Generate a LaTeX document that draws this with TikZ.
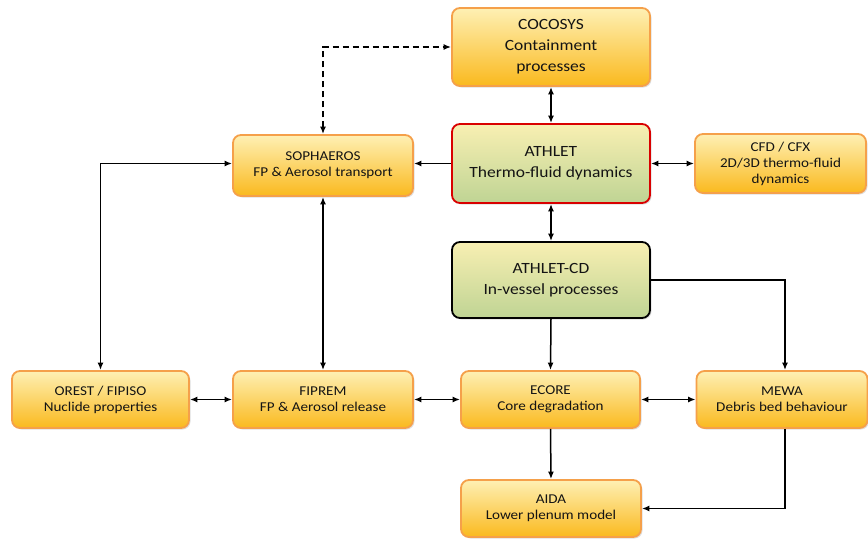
\documentclass[tikz,border=0pt]{standalone}
\usepackage{fontspec}
\setmainfont{Carlito}
\newfontfamily\boxfont[FakeStretch=1.12]{Carlito}
\usetikzlibrary{arrows.meta,shadows}
\definecolor{orTop}{HTML}{FEF0B4}
\definecolor{orBot}{HTML}{FAB91E}
\definecolor{orLine}{HTML}{F5A04A}
\definecolor{grTop}{HTML}{F8EFB2}
\definecolor{grBot}{HTML}{BFD494}
\definecolor{txt}{HTML}{141414}
\begin{document}
\begin{tikzpicture}[x=1pt,y=-1pt,
  box/.style={draw=orLine, line width=1.8pt, rounded corners=8pt,
    top color=orTop, bottom color=orBot, align=center, text=txt,
    font=\boxfont\fontsize{13.5}{16}\selectfont, inner sep=0pt,
    drop shadow={opacity=0.25, shadow xshift=1.5pt, shadow yshift=-1.5pt}},
  bigbox/.style={box, font=\boxfont\fontsize{15.6}{21}\selectfont},
  greenbox/.style={bigbox, top color=grTop, bottom color=grBot},
  conn/.style={line width=1.5pt, black},
  tip/.style={-{Latex[length=7.5pt,width=6pt]}},
  tips/.style={{Latex[length=7.5pt,width=6pt]}-{Latex[length=7.5pt,width=6pt]}}
]
\useasboundingbox (0,0) rectangle (868,539);

\node[bigbox, minimum width=198pt, minimum height=78pt] (cocosys) at (551,47) {COCOSYS\\Containment\\processes};
\node[greenbox, draw=red!85!black, minimum width=198pt, minimum height=79pt] (athlet) at (551,163.5) {ATHLET\\Thermo-fluid dynamics};
\node[greenbox, draw=black, minimum width=198pt, minimum height=76pt] (athletcd) at (551,280) {ATHLET-CD\\In-vessel processes};
\node[box, minimum width=180pt, minimum height=61pt] (soph) at (323,165.5) {SOPHAEROS\\FP \& Aerosol transport};
\node[box, minimum width=171pt, minimum height=59pt] (cfd) at (780.5,163.5) {CFD / CFX\\2D/3D thermo-fluid\\dynamics};
\node[box, minimum width=177pt, minimum height=57pt] (orest) at (100.5,399.5) {OREST / FIPISO\\Nuclide properties};
\node[box, minimum width=180pt, minimum height=57pt] (fiprem) at (323,399.5) {FIPREM\\FP \& Aerosol release};
\node[box, minimum width=179pt, minimum height=57pt] (ecore) at (550.5,399.5) {ECORE\\Core degradation};
\node[box, minimum width=171pt, minimum height=57pt] (mewa) at (782,399.5) {MEWA\\Debris bed behaviour};
\node[box, minimum width=180pt, minimum height=57pt] (aida) at (551,508.5) {AIDA\\Lower plenum model};

\coordinate (mewaTop) at ([xshift=3pt]mewa.north);
\coordinate (mewaBot) at ([xshift=3pt]mewa.south);

\draw[conn,tips] (cocosys.south) -- (athlet.north);
\draw[conn,tips,dashed,dash pattern=on 6pt off 4pt] (soph.north) |- (cocosys.west);
\draw[conn,tip] (athlet.west) -- (athlet.west -| soph.east);
\draw[conn,tips] (athlet.east) -- (athlet.east -| cfd.west);
\draw[conn,tips] (athlet.south) -- (athletcd.north);
\draw[conn,tips] (orest.north) |- (athlet.west -| soph.west);
\draw[conn,tips] (soph.south) -- (fiprem.north);
\draw[conn,tip] (athletcd.south) -- (ecore.north);
\draw[conn,tip] (athletcd.east) -| (mewaTop);
\draw[conn,tips] (orest.east) -- (fiprem.west);
\draw[conn,tips] (fiprem.east) -- (ecore.west);
\draw[conn,tips] (ecore.east) -- (mewa.west);
\draw[conn,tip] (ecore.south) -- (aida.north);
\draw[conn,tip] (mewaBot) |- (aida.east);
\end{tikzpicture}
\end{document}
